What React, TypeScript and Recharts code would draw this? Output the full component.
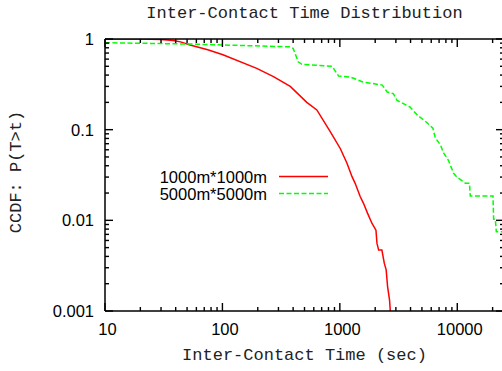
import React from "react";
import { LineChart, Line, XAxis, YAxis, Legend, Label } from "recharts";

// values (log-log CCDF)
const redX = [10, 20, 30, 38, 44, 53, 75, 101, 196, 272, 378, 523, 637, 828, 1008, 1150, 1270, 1350, 1490, 1590, 1720, 1875, 2030, 2070, 2140, 2280, 2390, 2480, 2550, 2650, 2690];
const redY = [1.0, 0.998, 0.99, 0.96, 0.93, 0.86, 0.76, 0.67, 0.475, 0.385, 0.3, 0.2, 0.165, 0.095, 0.062, 0.0426, 0.0303, 0.0256, 0.0183, 0.0154, 0.012, 0.0093, 0.0078, 0.0056, 0.0047, 0.0047, 0.00337, 0.00284, 0.00186, 0.00132, 0.001];

const greenX = [10, 53, 378, 400, 442, 475, 860, 975, 1230, 1570, 2300, 2530, 2850, 3070, 3950, 4570, 5500, 6200, 6500, 7200, 7600, 8400, 9300, 9940, 11700, 12700, 12900, 20150, 20400, 21100, 21500, 25000];
const greenY = [0.91, 0.88, 0.82, 0.79, 0.56, 0.525, 0.5, 0.39, 0.38, 0.336, 0.31, 0.26, 0.25, 0.21, 0.178, 0.145, 0.12, 0.104, 0.081, 0.068, 0.056, 0.046, 0.033, 0.03, 0.0257, 0.0257, 0.0186, 0.0186, 0.0103, 0.0103, 0.0075, 0.0075];

const seriesNames = ["1000m*1000m", "5000m*5000m"];
const seriesColors = ["#ff0000", "#00ff00"];

const xTicks = [10, 20, 30, 40, 50, 60, 70, 80, 90, 100, 200, 300, 400, 500, 600, 700, 800, 900, 1000, 2000, 3000, 4000, 5000, 6000, 7000, 8000, 9000, 10000, 20000];
const xMajor = [10, 100, 1000, 10000];
const yTicks = [0.001, 0.002, 0.003, 0.004, 0.005, 0.006, 0.007, 0.008, 0.009, 0.01, 0.02, 0.03, 0.04, 0.05, 0.06, 0.07, 0.08, 0.09, 0.1, 0.2, 0.3, 0.4, 0.5, 0.6, 0.7, 0.8, 0.9, 1];
const yMajor = [0.001, 0.01, 0.1, 1];

const redData = redX.map((x, i) => ({ x, y: redY[i] }));
const greenData = greenX.map((x, i) => ({ x, y: greenY[i] }));

const sans = "'Liberation Sans', Arial, sans-serif";
const mono = "'Liberation Mono', 'Courier New', monospace";
const tickFont = 16.5;
const tw = 1.4; // tick mark thickness

// gnuplot style: marks point into the plot, majors twice as long
function BottomTick({ x, y, payload }: any) {
  const major = xMajor.includes(payload.value);
  const len = major ? 8 : 4;
  return (
    <g>
      <rect x={x - tw / 2} y={y - len} width={tw} height={len} fill="#000" />
      {major && (
        <text x={x + 2.5} y={y + 24} textAnchor="middle" fontSize={tickFont} fontFamily={sans} fill="#000">
          {payload.value}
        </text>
      )}
    </g>
  );
}

function TopTick({ x, y, payload }: any) {
  const major = xMajor.includes(payload.value);
  return <rect x={x - tw / 2} y={y} width={tw} height={major ? 8 : 4} fill="#000" />;
}

function LeftTick({ x, y, payload }: any) {
  const major = yMajor.includes(payload.value);
  return (
    <g>
      <rect x={x} y={y - tw / 2} width={major ? 8 : 4} height={tw} fill="#000" />
      {major && (
        <text x={x - 11} y={y + 6} textAnchor="end" fontSize={tickFont} fontFamily={sans} fill="#000">
          {String(payload.value)}
        </text>
      )}
    </g>
  );
}

function RightTick({ x, y, payload }: any) {
  const major = yMajor.includes(payload.value);
  const len = major ? 8 : 4;
  return <rect x={x - len} y={y - tw / 2} width={len} height={tw} fill="#000" />;
}

function KeyBox() {
  return (
    <svg width={210} height={42}>
      {seriesNames.map((name, i) => (
        <g key={name}>
          <text x={137} y={20 + i * 16.5} textAnchor="end" fontSize={16.5} fontFamily={sans} fill="#000">
            {name}
          </text>
          <line
            x1={149}
            x2={198}
            y1={13.5 + i * 17}
            y2={13.5 + i * 17}
            stroke={seriesColors[i]}
            strokeWidth={1.5}
            strokeDasharray={i === 1 ? "5 2.5" : undefined}
          />
        </g>
      ))}
    </svg>
  );
}

export default function App() {
  const axisLine = { stroke: "#000", strokeWidth: 1.5 };
  return (
    <div style={{ position: "absolute", left: 0, top: 0, width: 502, height: 371, overflow: "hidden", background: "#fff" }}>
      <LineChart width={505} height={371} margin={{ top: 38, right: 0, bottom: 0, left: 0 }}>
        <XAxis
          xAxisId="b"
          dataKey="x"
          type="number"
          scale="log"
          domain={[10, 25000]}
          allowDataOverflow
          ticks={xTicks}
          interval={0}
          height={60}
          tickSize={0}
          tickMargin={0}
          tickLine={false}
          axisLine={axisLine}
          tick={<BottomTick />}
        >
          <Label
            value="Inter-Contact Time (sec)"
            position="insideBottom"
            offset={11}
            style={{ fontFamily: mono, fontSize: 17, fill: "#222" }}
          />
        </XAxis>
        <XAxis
          xAxisId="t"
          dataKey="x"
          type="number"
          scale="log"
          orientation="top"
          domain={[10, 25000]}
          allowDataOverflow
          ticks={xTicks}
          interval={0}
          height={1}
          tickSize={0}
          tickMargin={0}
          tickLine={false}
          axisLine={axisLine}
          tick={<TopTick />}
        >
          <Label
            value="Inter-Contact Time Distribution"
            position="top"
            offset={20}
            style={{ fontFamily: mono, fontSize: 17, fill: "#222" }}
          />
        </XAxis>
        <YAxis
          yAxisId="l"
          type="number"
          scale="log"
          domain={[0.001, 1]}
          allowDataOverflow
          ticks={yTicks}
          interval={0}
          width={105}
          tickSize={0}
          tickMargin={0}
          tickLine={false}
          axisLine={axisLine}
          tick={<LeftTick />}
        >
          <Label
            content={() => (
              <text
                x={21}
                y={172}
                transform="rotate(-90, 21, 172)"
                textAnchor="middle"
                fontFamily={mono}
                fontSize={17}
                fill="#222"
              >
                CCDF: P(T&gt;t)
              </text>
            )}
          />
        </YAxis>
        <YAxis
          yAxisId="r"
          orientation="right"
          type="number"
          scale="log"
          domain={[0.001, 1]}
          allowDataOverflow
          ticks={yTicks}
          interval={0}
          width={1}
          tickSize={0}
          tickMargin={0}
          tickLine={false}
          axisLine={axisLine}
          tick={<RightTick />}
        />
        <Legend
          layout="horizontal"
          align="center"
          verticalAlign="middle"
          content={() => <KeyBox />}
          wrapperStyle={{ position: "absolute", left: 130, top: 163, width: 210, height: 42 }}
        />
        <Line
          xAxisId="b"
          yAxisId="l"
          data={redData}
          dataKey="y"
          name={seriesNames[0]}
          type="linear"
          stroke={seriesColors[0]}
          strokeWidth={1.5}
          dot={false}
          isAnimationActive={false}
        />
        <Line
          xAxisId="b"
          yAxisId="l"
          data={greenData}
          dataKey="y"
          name={seriesNames[1]}
          type="linear"
          stroke={seriesColors[1]}
          strokeWidth={1.5}
          strokeDasharray="5 2.5"
          dot={false}
          isAnimationActive={false}
        />
      </LineChart>
    </div>
  );
}
